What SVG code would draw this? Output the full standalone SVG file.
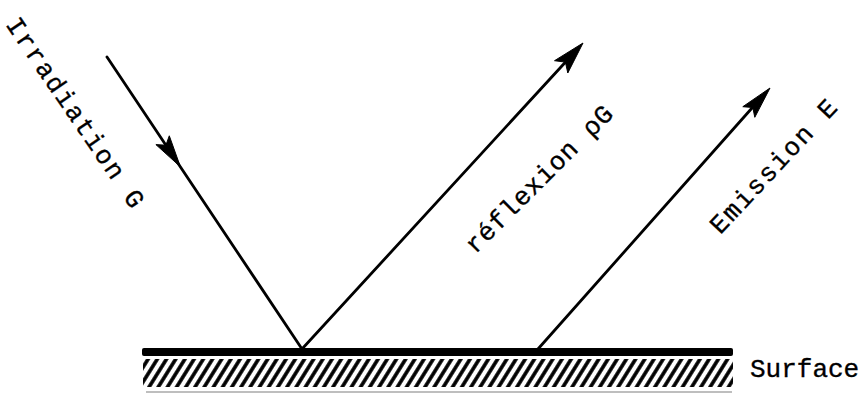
<svg xmlns="http://www.w3.org/2000/svg" width="864" height="396" viewBox="0 0 864 396">
  <style>
    .lbl { font-family: "Liberation Mono", "DejaVu Sans Mono", monospace; font-size: 26px; fill: #000; stroke: #000; stroke-width: 0.35; }
    .ray { stroke: #000; stroke-width: 2.8; fill: none; stroke-linecap: round; }
    .head { fill: #000; stroke: #000; stroke-width: 1; stroke-linejoin: round; }
  </style>
  <defs>
    <pattern id="hatch" patternUnits="userSpaceOnUse" width="7.8" height="40" patternTransform="rotate(32)">
      <line x1="3.9" y1="-5" x2="3.9" y2="45" stroke="#000" stroke-width="3.6"/>
    </pattern>
  </defs>
  <rect width="864" height="396" fill="#fff"/>

  <g id="surface">
    <rect x="143" y="359" width="590" height="28" fill="url(#hatch)"/>
    <rect x="142" y="348" width="591" height="8" rx="2" fill="#000"/>
    <line x1="146" y1="392" x2="732" y2="392" stroke="#000" stroke-width="1.2" opacity="0.5"/>
    <text class="lbl" x="750" y="377">Surface</text>
  </g>

  <g id="connectors">
    <g id="irradiation-ray">
      <line class="ray" x1="107" y1="57" x2="302" y2="349"/>
      <path class="head" d="M180.4,166.8 L155.9,144.6 L165.9,145.2 L169.3,135.8 Z"/>
    </g>
    <g id="reflexion-ray">
      <line class="ray" x1="302" y1="349" x2="572" y2="55"/>
      <path class="head" d="M583,43 L567.8,73.0 L565.4,62.1 L554.5,60.7 Z"/>
    </g>
    <g id="emission-ray">
      <line class="ray" x1="538" y1="349" x2="760" y2="99"/>
      <path class="head" d="M770,88 L754.8,117.3 L752.8,107.5 L742.8,106.7 Z"/>
    </g>
  </g>

  <g id="irradiation-label">
    <text class="lbl" transform="translate(5.1,24.6) rotate(55.7)" letter-spacing="1.8">Irradiation G</text>
  </g>
  <g id="reflexion-label">
    <text class="lbl" transform="translate(475.2,254.8) rotate(-45)" letter-spacing="0.9">réflexion ρG</text>
  </g>
  <g id="emission-label">
    <text class="lbl" transform="translate(720.2,235.2) rotate(-46.8)" letter-spacing="1.9">Emission E</text>
  </g>
</svg>
